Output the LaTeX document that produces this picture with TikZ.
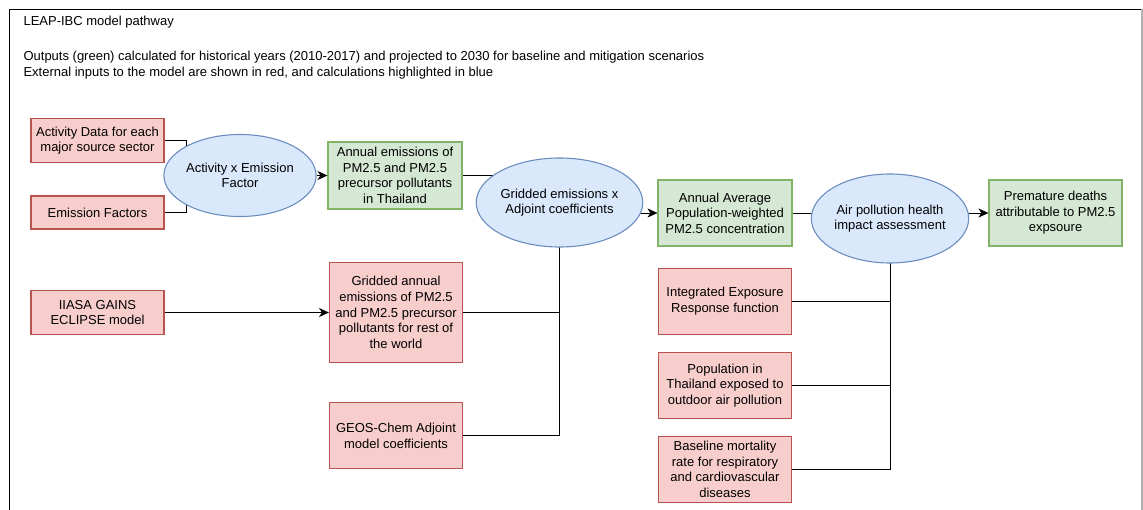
\documentclass[tikz,border=0pt]{standalone}
\usepackage{fontspec}
\setmainfont{Liberation Sans}
\usetikzlibrary{shapes.geometric,positioning,arrows.meta,backgrounds}
\definecolor{inred}{RGB}{248,206,204}
\definecolor{inredline}{RGB}{184,84,80}
\definecolor{outgreen}{RGB}{213,232,212}
\definecolor{outgreenline}{RGB}{130,179,102}
\definecolor{calcblue}{RGB}{218,232,252}
\definecolor{calcblueline}{RGB}{108,142,191}
\begin{document}
\begin{tikzpicture}[x=1pt,y=-1pt,line width=1.1pt,
  txt/.style={font=\fontsize{13}{15.6}\selectfont,align=center,inner sep=0pt},
  rbox/.style={txt,draw=inredline,fill=inred,minimum width=133pt},
  gbox/.style={txt,draw=outgreenline,fill=outgreen,minimum width=134pt,minimum height=66pt},
  bell/.style={txt,ellipse,draw=calcblueline,fill=calcblue,minimum width=133pt,minimum height=89pt},
  note/.style={font=\fontsize{13}{15.6}\selectfont,anchor=base west,inner sep=0pt},
  arr/.style={-{Stealth[length=10pt,width=9pt,inset=3pt]}}]

  \useasboundingbox (0,0) rectangle (1143,510);
  \draw[line width=1.6pt] (9.5,510) -- (9.5,9.5) -- (1142,9.5);
  \draw[black!30] (1142,9.5) -- (1142,510);

  \node[note] (title) at (23,26) {LEAP-IBC model pathway};
  \node[note] (note1) at (23,61) {Outputs (green) calculated for historical years (2010-2017) and projected to 2030 for baseline and mitigation scenarios};
  \node[note] (note2) at (23,77) {External inputs to the model are shown in red, and calculations highlighted in blue};

  % emissions for Thailand
  \node[rbox,minimum height=44pt] (actdata) at (97.5,140.5) {Activity Data for each\\major source sector};
  \node[rbox,minimum height=33pt] (emfac) at (97.5,212.5) {Emission Factors};
  \node[bell,minimum width=132pt,minimum height=82pt] (actef) at (240,175.5) {Activity x Emission\\Factor};
  \node[gbox,minimum height=67pt] (annem) at (395,175.5) {Annual emissions of\\PM2.5 and PM2.5\\precursor pollutants\\in Thailand};
  \coordinate (actin) at ([xshift=-54pt]actef.center);

  % rest of the world
  \node[rbox,minimum height=44pt] (iiasa) at (97.5,312.5) {IIASA GAINS\\ECLIPSE model};
  \node[rbox,minimum height=100pt] (gridded) at (396,312.5) {Gridded annual\\emissions of PM2.5\\and PM2.5 precursor\\pollutants for rest of\\the world};
  \node[rbox,minimum height=66pt,below=39pt of gridded] (geos) {GEOS-Chem Adjoint\\model coefficients};
  \node[bell] (gridadj) at (559.5,202.5) {Gridded emissions x\\Adjoint coefficients};

  % health impact
  \node[gbox] (popw) at (725,213) {Annual Average\\Population-weighted\\PM2.5 concentration};
  \node[bell,minimum width=132pt] (airhia) at (890,218.5) {Air pollution health\\impact assessment};
  \node[gbox,minimum width=133pt] (prem) at (1055.5,213) {Premature deaths\\attributable to PM2.5\\expsoure};
  \node[rbox,minimum height=66pt] (ier) at (725,301.3) {Integrated Exposure\\Response function};
  \node[rbox,minimum height=66pt,below=17pt of ier] (popth) {Population in\\Thailand exposed to\\outdoor air pollution};
  \node[rbox,minimum height=66pt,below=17pt of popth] (basemort) {Baseline mortality\\rate for respiratory\\and cardiovascular\\diseases};

  \draw[arr] (actef) -- (annem);
  \draw[arr] (iiasa) -- (gridded);

  \begin{scope}[on background layer]
    \draw (actdata.east) -| (actin);
    \draw (emfac.east) -| (actin);
    \draw (annem.east) -- (annem.east -| gridadj.center);
    \draw (gridded.east) -| (gridadj.center);
    \draw (geos.east) -| (gridadj.center);
    \draw[arr] (popw.west -| gridadj.center) -- (popw.west);
    \draw (popw.east) -- (popw.east -| airhia.center);
    \draw[arr] (prem.west -| airhia.center) -- (prem.west);
    \draw (ier.east) -| (airhia.center);
    \draw (popth.east) -| (airhia.center);
    \draw (basemort.east) -| (airhia.center);
  \end{scope}
\end{tikzpicture}
\end{document}
